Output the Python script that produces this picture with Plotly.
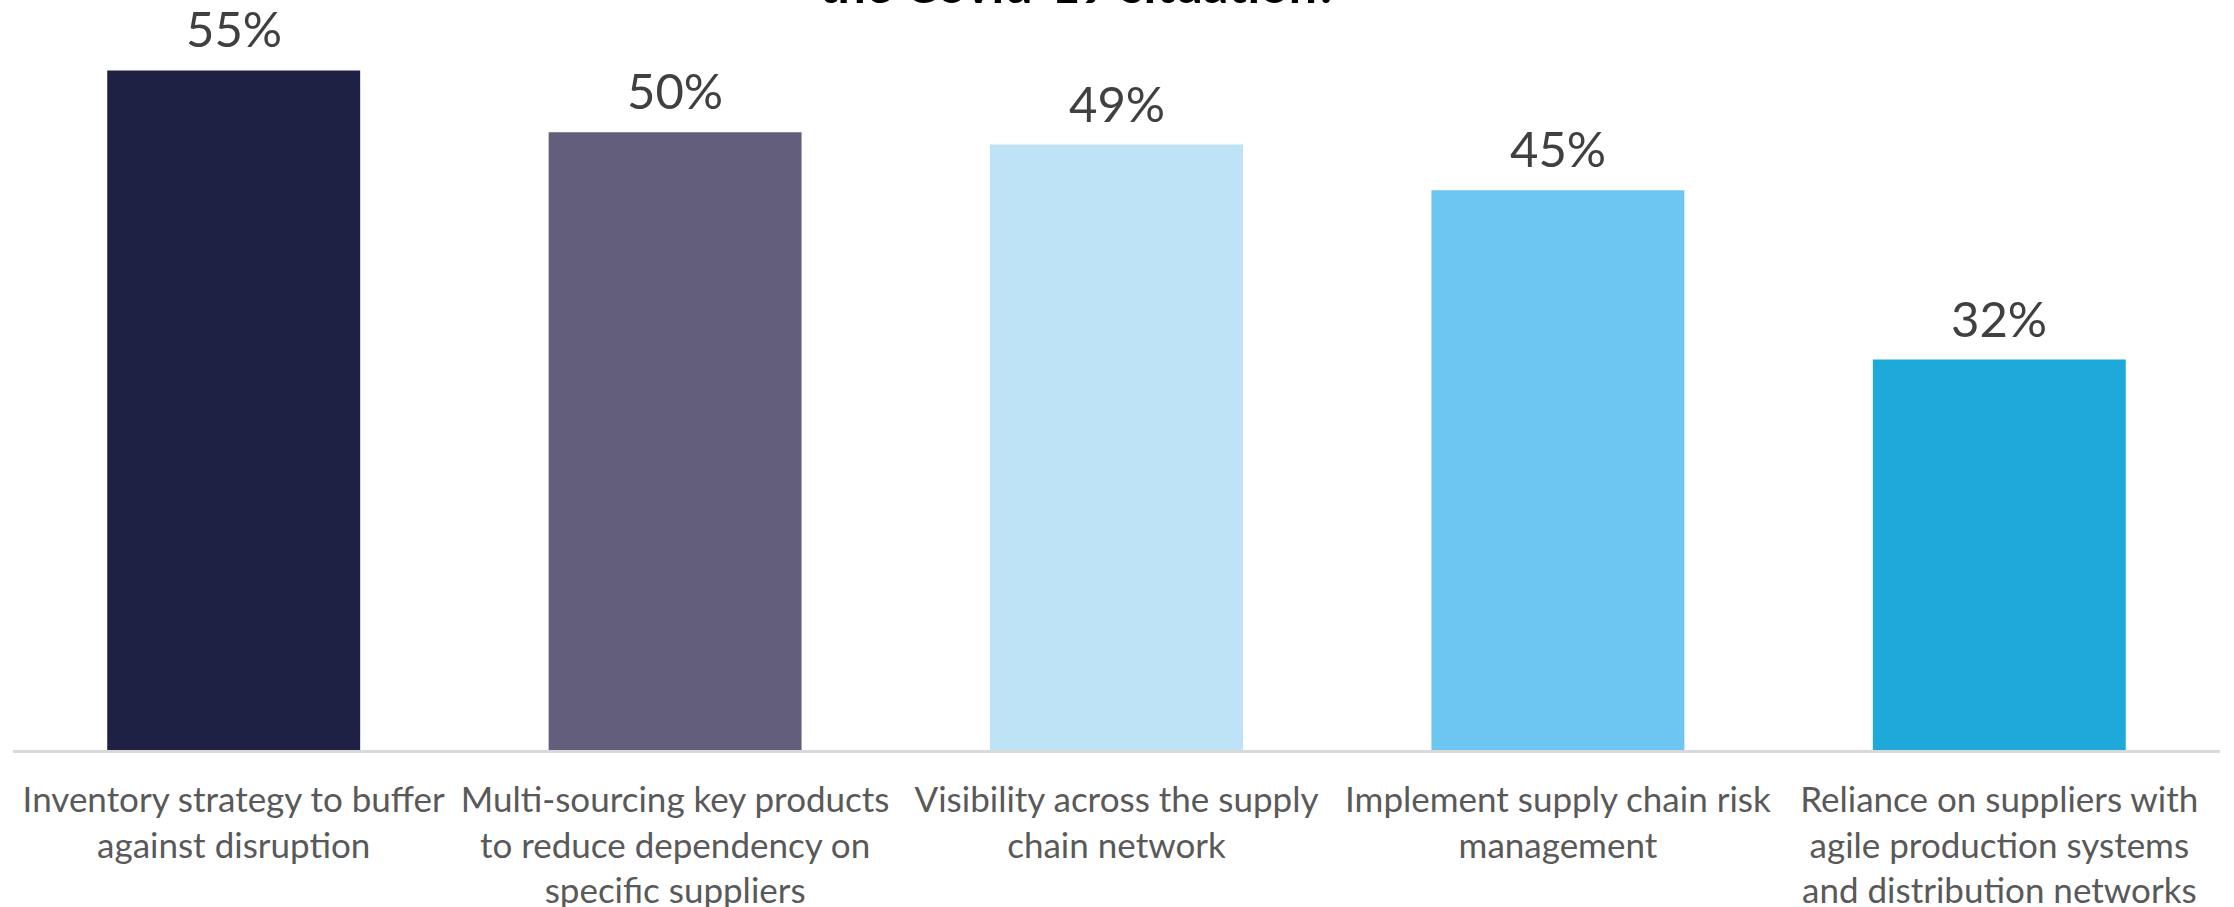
import plotly.graph_objects as go

categories = [
    "Inventory strategy to buffer<br>against disruption",
    "Multi-sourcing key products<br>to reduce dependency on<br>specific suppliers",
    "Visibility across the supply<br>chain network",
    "Implement supply chain risk<br>management",
    "Reliance on suppliers with<br>agile production systems<br>and distribution networks",
]
values = [55, 50, 49, 45.3, 31.6]
labels = ["55%", "50%", "49%", "45%", "32%"]
colors = ["#1F2144", "#635E7C", "#BEE3F6", "#6DC5F1", "#1FA8DA"]

FONT = "Lato, 'Open Sans', sans-serif"

fig = go.Figure(
    go.Bar(
        x=categories,
        y=values,
        marker=dict(color=colors, line=dict(width=0)),
        width=0.573,
        hoverinfo="skip",
    )
)

for cat, val, lab in zip(categories, values, labels):
    fig.add_annotation(
        x=cat, y=val, text=lab, showarrow=False,
        yanchor="bottom", yshift=11,
        font=dict(family=FONT, size=49, color="#404040"),
    )

# title is mostly cropped off at the top of the image
fig.add_annotation(
    x=0.483, y=1, xref="paper", yref="paper", text="<b>the Covid-19 situation?</b>",
    showarrow=False, yanchor="bottom", yshift=-16,
    font=dict(family=FONT, size=50, color="#000000"),
)

fig.update_layout(
    width=2234,
    height=907,
    margin=dict(l=13, r=14, t=0, b=157, autoexpand=False),
    plot_bgcolor="white",
    paper_bgcolor="white",
    showlegend=False,
    bargap=0.427,
    xaxis=dict(
        showline=True, linecolor="#D9D9D9", linewidth=3,
        ticks="", showgrid=False, automargin=False,
        ticklabelstandoff=17,
        tickfont=dict(family=FONT, size=35, color="#595959"),
    ),
    yaxis=dict(range=[0, 60.7], visible=False, showgrid=False),
)

# drop the default 8px page margin so the figure sits flush with the window
fig.write_html(
    "out.html",
    config={"displayModeBar": False},
    post_script="document.body.style.margin = '0';",
)
